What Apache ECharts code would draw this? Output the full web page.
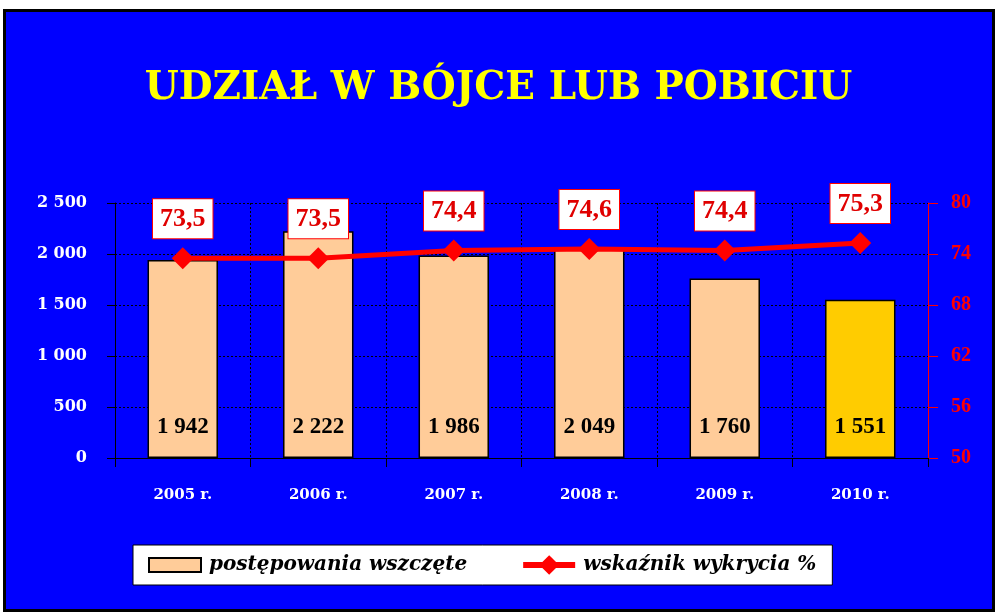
<!DOCTYPE html>
<html>
<head>
<meta charset="utf-8">
<script src="https://cdn.jsdelivr.net/npm/echarts@6/dist/echarts.min.js"></script>
<style>
  html, body { margin: 0; padding: 0; background: #fff; }
  .frame {
    position: absolute; left: 3px; top: 9px; width: 992px; height: 603px;
    box-sizing: border-box; border: 3px solid #000; background: #0000ff;
  }
  #main { position: absolute; left: 0; top: 0; width: 997px; height: 612px; }
</style>
</head>
<body>
<div class="frame"></div>
<div id="main"></div>
<script>
  // dane
  var years = ['2005 r.', '2006 r.', '2007 r.', '2008 r.', '2009 r.', '2010 r.'];
  var cases = [1942, 2222, 1986, 2049, 1760, 1551];
  var detection = [73.5, 73.5, 74.4, 74.6, 74.4, 75.3];
  var leftTicks = [0, 500, 1000, 1500, 2000, 2500];
  var rightTicks = [50, 56, 62, 68, 74, 80];

  var serif = "'Liberation Serif', 'Times New Roman', serif";
  var wide = "'DejaVu Serif', serif";

  function spaced(v) {
    return String(v).replace(/\B(?=(\d{3})+(?!\d))/g, ' ');
  }

  var chart = echarts.init(document.getElementById('main'));

  var option = {
    backgroundColor: 'transparent',
    animation: false,
    title: {
      text: 'UDZIAŁ W BÓJCE LUB POBICIU',
      left: 'center',
      top: 64,
      textStyle: {
        color: '#ffff00',
        fontFamily: wide,
        fontWeight: 'bold',
        fontSize: 39,
        textShadowColor: '#202020',
        textShadowOffsetX: 2,
        textShadowOffsetY: 2,
        textShadowBlur: 0
      }
    },
    grid: { left: 115, right: 69, top: 203, bottom: 154 },
    legend: {
      left: 133,
      top: 545,
      padding: [10, 16, 10, 15],
      itemGap: 53,
      itemWidth: 52,
      itemHeight: 14,
      backgroundColor: '#ffffff',
      borderColor: '#000000',
      borderWidth: 1,
      borderRadius: 0,
      textStyle: {
        color: '#000',
        fontFamily: wide,
        fontStyle: 'italic',
        fontWeight: 'bold',
        fontSize: 20,
        padding: [0, 0, 0, 3]
      },
      data: [
        { name: 'postępowania wszczęte', icon: 'rect' },
        {
          name: 'wskaźnik wykrycia %',
          lineStyle: { width: 6 },
          itemStyle: { borderColor: '#ff0000', borderWidth: 6 }
        }
      ]
    },
    xAxis: {
      type: 'category',
      data: years,
      axisLine: { lineStyle: { color: '#000', width: 1 } },
      axisTick: { show: true, length: 9, lineStyle: { color: '#000' } },
      splitLine: { show: true, lineStyle: { color: '#000', type: [2, 2], width: 1 } },
      axisLabel: {
        color: '#fff',
        fontFamily: wide,
        fontWeight: 'bold',
        fontSize: 15,
        margin: 30,
        textShadowColor: '#000',
        textShadowOffsetX: 1,
        textShadowOffsetY: 1
      }
    },
    yAxis: [
      {
        type: 'value',
        min: leftTicks[0],
        max: leftTicks[leftTicks.length - 1],
        interval: leftTicks[1] - leftTicks[0],
        axisLine: { show: true, lineStyle: { color: '#000' } },
        axisTick: { show: true, length: 8, lineStyle: { color: '#000' } },
        splitLine: { show: true, lineStyle: { color: '#000', type: [2, 2], width: 1 } },
        axisLabel: {
          color: '#fff',
          fontFamily: wide,
          fontWeight: 'bold',
          fontSize: 16,
          margin: 28,
          formatter: spaced,
          textShadowColor: '#000',
          textShadowOffsetX: 1,
          textShadowOffsetY: 1
        }
      },
      {
        type: 'value',
        position: 'right',
        min: rightTicks[0],
        max: rightTicks[rightTicks.length - 1],
        interval: rightTicks[1] - rightTicks[0],
        axisLine: { show: true, lineStyle: { color: '#ff0000' } },
        axisTick: { show: true, length: 10, lineStyle: { color: '#ff0000' } },
        splitLine: { show: false },
        axisLabel: {
          color: '#ff0000',
          fontFamily: serif,
          fontWeight: 'bold',
          fontSize: 20,
          margin: 23,
          textShadowColor: '#400000',
          textShadowOffsetX: 1,
          textShadowOffsetY: 1
        }
      }
    ],
    series: [
      {
        name: 'postępowania wszczęte',
        type: 'bar',
        barWidth: '52%',
        data: cases.map(function (v, i) {
          return {
            value: v,
            itemStyle: { color: i === cases.length - 1 ? '#ffcc00' : '#ffcc99' }
          };
        }),
        itemStyle: { color: '#ffcc99', borderColor: '#000', borderWidth: 1.5 },
        label: {
          show: true,
          position: 'insideBottom',
          distance: 19,
          color: '#000',
          fontFamily: serif,
          fontWeight: 'bold',
          fontSize: 23,
          formatter: function (p) { return spaced(p.value); }
        },
        z: 2
      },
      {
        name: 'wskaźnik wykrycia %',
        type: 'line',
        yAxisIndex: 1,
        data: detection,
        symbol: 'diamond',
        symbolSize: 22,
        lineStyle: { color: '#ff0000', width: 5 },
        itemStyle: { color: '#ff0000' },
        label: {
          show: true,
          position: 'top',
          distance: 9,
          color: '#e00000',
          fontFamily: serif,
          fontWeight: 'bold',
          fontSize: 26,
          backgroundColor: '#fff',
          borderColor: '#ff0000',
          borderWidth: 1,
          padding: [7, 7, 6, 7],
          textShadowColor: '#600000',
          textShadowOffsetX: 1,
          textShadowOffsetY: 1,
          formatter: function (p) { return p.value.toFixed(1).replace('.', ','); }
        },
        z: 3
      }
    ]
  };

  chart.setOption(option);
</script>
</body>
</html>
